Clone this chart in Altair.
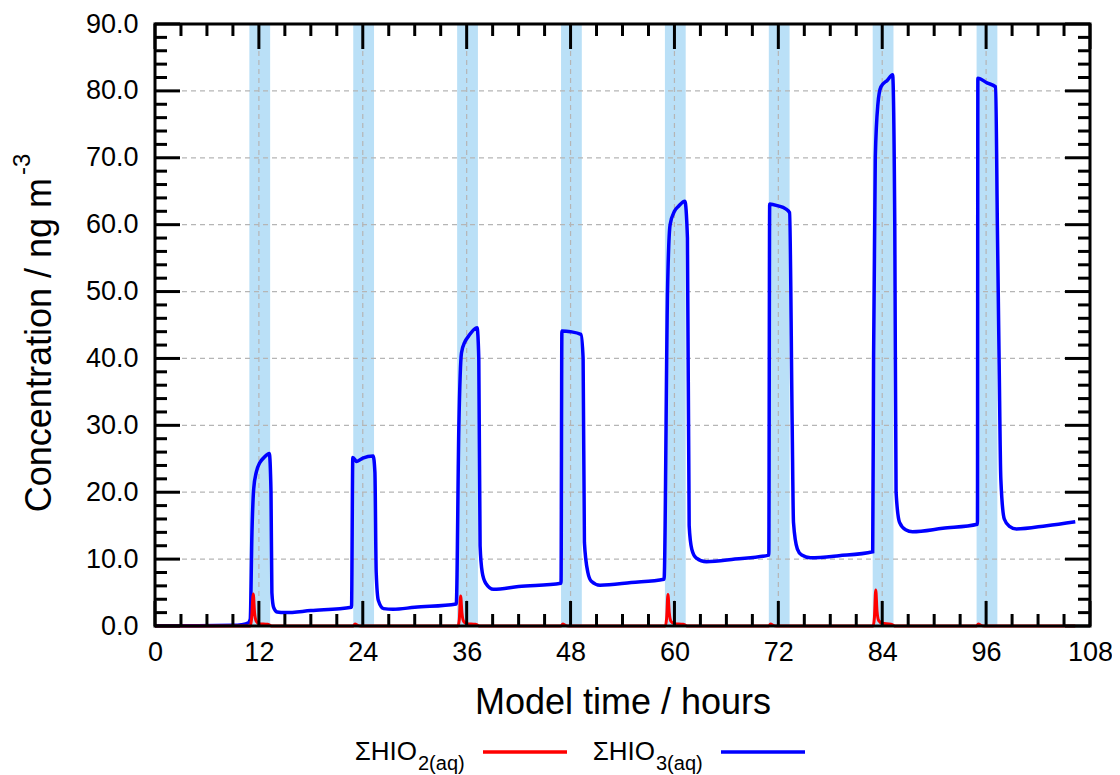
import altair as alt
import pandas as pd

# ---------------- data ----------------
hours_hio3 = [0, 5, 9, 10, 10.8, 11.0, 11.2, 11.4, 11.7, 12.1, 12.6, 13.2, 13.4, 13.5, 13.7, 14.1, 15, 18, 22.7,
              22.85, 23.3, 24, 25.2, 25.4, 25.55, 25.8, 26.4, 27.5, 30, 34.8,
              35.1, 35.4, 35.8, 36.2, 37.2, 37.4, 37.55, 37.8, 38.2, 39.1, 42, 46.9,
              47.0, 48, 49.2, 49.45, 49.6, 50, 50.4, 51.4, 55, 58.8,
              59.2, 59.5, 60, 60.5, 61.2, 61.5, 61.7, 62, 62.5, 63.7, 67, 70.9,
              71.0, 72, 72.8, 73.3, 73.6, 73.75, 74.2, 74.7, 75.7, 79, 82.9,
              83.0, 83.2, 83.5, 83.85, 84.6, 85.2, 85.45, 85.6, 86, 86.7, 87.5, 91, 95.0,
              95.05, 96.1, 97.1, 97.3, 97.5, 97.7, 98.1, 98.7, 99.5, 103, 106.3]
hio3 = [0.05, 0.05, 0.1, 0.2, 0.5, 1.0, 14, 20.5, 23, 24.4, 25.2, 25.8, 20, 5, 2.8, 2.1, 2.0, 2.3, 2.8,
        25.2, 24.6, 25.1, 25.4, 23, 8, 3.8, 2.6, 2.5, 2.8, 3.3,
        30, 40.8, 42.5, 43.3, 44.6, 40, 12, 8, 6.4, 5.5, 5.9, 6.4,
        44.1, 44.0, 43.6, 40, 12.5, 8, 6.7, 6.1, 6.5, 7.0,
        50, 60, 62, 62.8, 63.5, 58, 15, 11.5, 10.2, 9.6, 10.0, 10.6,
        63.1, 62.8, 62.4, 61.8, 30, 15.5, 11.5, 10.6, 10.2, 10.5, 11.1,
        40, 70, 78, 80.6, 81.6, 82.4, 60, 20, 15.5, 14.4, 14.1, 14.6, 15.2,
        81.9, 81.2, 80.6, 60, 40, 22, 16, 14.9, 14.5, 15.0, 15.6]

hours_hio2 = [0, 11.0, 11.15, 11.35, 11.5, 11.7, 12.0, 13.0, 13.3, 13.5,
              22.9, 23.1, 23.4, 23.8,
              35.0, 35.15, 35.3, 35.45, 35.65, 36.0, 37.0, 37.3, 37.5,
              46.9, 47.1, 47.4, 47.8,
              58.95, 59.1, 59.25, 59.4, 59.6, 60.0, 61.0, 61.3, 61.5,
              70.9, 71.1, 71.4, 71.8,
              82.95, 83.1, 83.25, 83.4, 83.6, 84.0, 85.0, 85.3, 85.5,
              94.9, 95.1, 95.4, 95.8, 106.3]
hio2 = [0, 0, 1.0, 4.8, 2.0, 0.7, 0.35, 0.25, 0.1, 0,
        0, 0.3, 0.1, 0,
        0, 1.0, 4.5, 2.0, 0.7, 0.35, 0.25, 0.1, 0,
        0, 0.3, 0.1, 0,
        0, 1.2, 4.7, 2.0, 0.7, 0.35, 0.25, 0.1, 0,
        0, 0.3, 0.1, 0,
        0, 1.3, 5.4, 2.2, 0.8, 0.4, 0.25, 0.1, 0,
        0, 0.3, 0.1, 0, 0]

band_start = [10.9, 22.9, 34.9, 46.9, 58.9, 70.9, 82.9, 94.9]
band_end = [13.3, 25.3, 37.3, 49.3, 61.3, 73.3, 85.3, 97.3]

x_major = list(range(0, 109, 12))
x_minor = [t for t in range(0, 109, 3) if t % 12 != 0]
y_major = list(range(0, 91, 10))
y_minor = [v for v in range(0, 91, 2) if v % 10 != 0]
x_grid = list(range(12, 97, 12))
y_grid = list(range(10, 81, 10))

legend_main = ["ΣHIO", "ΣHIO"]
legend_sub = ["2(aq)", "3(aq)"]

# ---------------- chart ----------------
W, H = 935, 602
FONT = "Liberation Sans"
xs = alt.Scale(domain=[0, 108], nice=False, zero=False)
ys = alt.Scale(domain=[0, 90], nice=False, zero=False)

X_AXIS = alt.Axis(
    values=x_major, title="Model time / hours", labelFontSize=27, labelFont=FONT,
    labelColor="black", tickSize=0, domain=False, grid=False, labelPadding=13,
    titleFontSize=36, titleFont=FONT, titleFontWeight="normal", titleColor="black",
    titleBaseline="alphabetic", titleY=87, labelFlush=False)
Y_AXIS = alt.Axis(
    values=y_major, format=".1f", title="", labelFontSize=27, labelFont=FONT,
    labelColor="black", tickSize=0, domain=False, grid=False, labelPadding=17,
    labelFlush=False)


def X(field):
    return alt.X(field, type="quantitative", scale=xs, axis=X_AXIS)


def Y(field):
    return alt.Y(field, type="quantitative", scale=ys, axis=Y_AXIS)


df3 = pd.DataFrame({"t": hours_hio3, "c": hio3})
df2 = pd.DataFrame({"t": hours_hio2, "c": hio2})
bands = pd.DataFrame({"s": band_start, "e": band_end})
one = pd.DataFrame({"k": [0]})

bands_l = alt.Chart(bands).mark_rect(color="#bae0f7").encode(
    x=X("s"), x2="e:Q", y=alt.value(0), y2=alt.value(H))

grid_x = alt.Chart(pd.DataFrame({"g": x_grid})).mark_rule(
    color="#b5b5b5", strokeWidth=1.2, strokeDash=[5, 4]).encode(
    x=X("g"), y=alt.value(0), y2=alt.value(H))
grid_y = alt.Chart(pd.DataFrame({"g": y_grid})).mark_rule(
    color="#b5b5b5", strokeWidth=1.2, strokeDash=[5, 4]).encode(
    y=Y("g"), x=alt.value(0), x2=alt.value(W))

blue = alt.Chart(df3).mark_line(color="#0000ff", strokeWidth=3.5, interpolate="monotone").encode(
    x=X("t"), y=Y("c"))

red = alt.Chart(df2).mark_line(color="#ff0000", strokeWidth=3, interpolate="monotone").encode(
    x=X("t"), y=Y("c"))

frame = alt.Chart(one).mark_rect(filled=False, stroke="black", strokeWidth=3).encode(
    x=alt.value(0), x2=alt.value(W), y=alt.value(0), y2=alt.value(H))


def xticks(vals, length):
    d = alt.Chart(pd.DataFrame({"v": vals}))
    bot = d.mark_rule(color="black", strokeWidth=3).encode(
        x=X("v"), y=alt.value(H), y2=alt.value(H - length))
    top = d.mark_rule(color="black", strokeWidth=3).encode(
        x=X("v"), y=alt.value(0), y2=alt.value(length))
    return [bot, top]


def yticks(vals, length):
    d = alt.Chart(pd.DataFrame({"v": vals}))
    left = d.mark_rule(color="black", strokeWidth=3).encode(
        y=Y("v"), x=alt.value(0), x2=alt.value(length))
    right = d.mark_rule(color="black", strokeWidth=3).encode(
        y=Y("v"), x=alt.value(W), x2=alt.value(W - length))
    return [left, right]


ticks = xticks(x_major, 25) + xticks(x_minor, 12) + yticks(y_major, 25) + yticks(y_minor, 12)

# y-axis title with superscript
ytitle = alt.Chart(pd.DataFrame({"s": ["Concentration / ng m"]})).mark_text(
    angle=270, align="right", baseline="middle", fontSize=36, font=FONT, color="black").encode(
    text="s:N", x=alt.value(-115), y=alt.value(154))
ysup = alt.Chart(pd.DataFrame({"s": ["-3"]})).mark_text(
    angle=270, align="left", baseline="middle", fontSize=24, font=FONT, color="black").encode(
    text="s:N", x=alt.value(-132), y=alt.value(151))


# legend
def legend_item(main, sub, color, x_main_end, x_line0, x_line1):
    t1 = alt.Chart(pd.DataFrame({"s": [main]})).mark_text(
        align="right", baseline="alphabetic", fontSize=26, font=FONT, color="black").encode(
        text="s:N", x=alt.value(x_main_end), y=alt.value(736))
    t2 = alt.Chart(pd.DataFrame({"s": [sub]})).mark_text(
        align="left", baseline="alphabetic", fontSize=20, font=FONT, color="black").encode(
        text="s:N", x=alt.value(x_main_end + 1), y=alt.value(746))
    ln = alt.Chart(one).mark_rule(color=color, strokeWidth=3.5).encode(
        x=alt.value(x_line0), x2=alt.value(x_line1), y=alt.value(728))
    return [t1, t2, ln]


leg = legend_item(legend_main[0], legend_sub[0], "#ff0000", 262, 328, 412) + \
      legend_item(legend_main[1], legend_sub[1], "#0000ff", 500, 566, 650)

chart = alt.layer(bands_l, grid_x, grid_y, blue, red, frame, *ticks, ytitle, ysup, *leg).properties(
    width=W, height=H,
    autosize=alt.AutoSizeParams(type="none"),
    padding={"left": 147, "top": 16, "right": 22, "bottom": 150},
).configure_view(stroke=None)

chart.save("out.html", embed_options={"renderer": "svg", "actions": False})
